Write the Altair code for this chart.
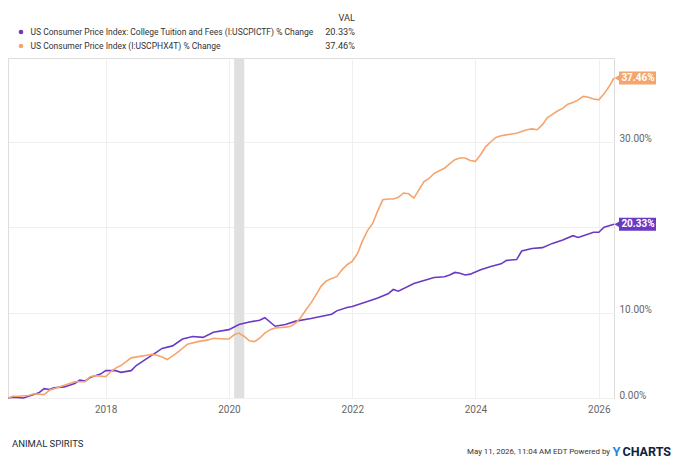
import altair as alt
import pandas as pd

# ---------------- data ----------------
purple_dates = ["2016-06-01", "2016-07-01", "2016-09-01", "2016-11-01", "2016-12-01",
                "2017-01-01", "2017-02-01", "2017-03-01", "2017-05-01", "2017-07-01",
                "2017-08-01", "2017-09-01", "2017-10-01", "2017-12-01", "2018-01-01",
                "2018-03-01", "2018-04-01", "2018-06-01", "2018-07-01", "2018-09-01",
                "2018-11-01", "2018-12-01", "2019-02-01", "2019-04-01", "2019-06-01",
                "2019-08-01", "2019-10-01", "2020-01-01", "2020-03-01", "2020-05-01",
                "2020-07-01", "2020-08-01", "2020-10-01", "2020-12-01", "2021-02-01",
                "2021-05-01", "2021-09-01", "2021-10-01", "2021-12-01", "2022-01-01",
                "2022-04-01", "2022-06-01", "2022-08-01", "2022-09-01", "2022-10-01",
                "2023-01-01", "2023-05-01", "2023-07-01", "2023-08-01", "2023-09-01",
                "2023-10-01", "2023-11-01", "2023-12-01", "2024-02-01", "2024-04-01",
                "2024-06-01", "2024-07-01", "2024-09-01", "2024-10-01", "2024-12-01",
                "2025-02-01", "2025-04-01", "2025-06-01", "2025-08-01", "2025-09-01",
                "2025-10-01", "2025-12-01", "2026-01-01", "2026-02-01", "2026-04-01"]
purple_vals = [0.0, 0.1, 0.0, 0.4, 0.6,
               1.1, 1.0, 1.2, 1.3, 1.7,
               2.1, 2.0, 2.4, 2.8, 3.2,
               3.2, 3.0, 3.2, 3.8, 4.6,
               5.4, 5.8, 6.1, 6.9, 7.2,
               7.1, 7.7, 8.0, 8.6, 8.9,
               9.1, 9.4, 8.4, 8.6, 9.0,
               9.3, 9.8, 10.2, 10.6, 10.7,
               11.3, 11.7, 12.2, 12.7, 12.5,
               13.4, 14.1, 14.2, 14.4, 14.7,
               14.6, 14.4, 14.5, 15.0, 15.4,
               15.7, 16.1, 16.2, 17.2, 17.5,
               17.6, 18.1, 18.5, 19.0, 18.8,
               19.0, 19.4, 19.4, 20.0, 20.33]

orange_dates = ["2016-06-01", "2016-07-01", "2016-08-01", "2016-10-01", "2016-11-01",
                "2017-01-01", "2017-02-01", "2017-04-01", "2017-06-01", "2017-07-01",
                "2017-09-01", "2017-10-01", "2017-11-01", "2018-01-01", "2018-02-01",
                "2018-03-01", "2018-04-01", "2018-06-01", "2018-08-01", "2018-09-01",
                "2018-10-01", "2018-11-01", "2018-12-01", "2019-01-01", "2019-03-01",
                "2019-05-01", "2019-07-01", "2019-09-01", "2019-10-01", "2019-12-01",
                "2020-01-01", "2020-02-01", "2020-03-01", "2020-04-01", "2020-05-01",
                "2020-06-01", "2020-07-01", "2020-08-01", "2020-09-01", "2020-10-01",
                "2020-12-01", "2021-01-01", "2021-02-01", "2021-03-01", "2021-04-01",
                "2021-05-01", "2021-06-01", "2021-07-01", "2021-08-01", "2021-09-01",
                "2021-10-01", "2021-11-01", "2021-12-01", "2022-01-01", "2022-02-01",
                "2022-03-01", "2022-04-01", "2022-05-01", "2022-06-01", "2022-07-01",
                "2022-08-01", "2022-09-01", "2022-10-01", "2022-11-01", "2022-12-01",
                "2023-01-01", "2023-02-01", "2023-03-01", "2023-04-01", "2023-05-01",
                "2023-06-01", "2023-07-01", "2023-08-01", "2023-09-01", "2023-10-01",
                "2023-11-01", "2023-12-01", "2024-01-01", "2024-02-01", "2024-03-01",
                "2024-04-01", "2024-05-01", "2024-06-01", "2024-07-01", "2024-08-01",
                "2024-09-01", "2024-10-01", "2024-11-01", "2024-12-01", "2025-01-01",
                "2025-02-01", "2025-03-01", "2025-04-01", "2025-05-01", "2025-06-01",
                "2025-07-01", "2025-08-01", "2025-09-01", "2025-10-01", "2025-11-01",
                "2025-12-01", "2026-01-01", "2026-02-01", "2026-03-01", "2026-04-01"]
orange_vals = [0.0, 0.2, 0.2, 0.3, 0.5,
               0.4, 0.9, 1.3, 1.7, 1.9,
               1.9, 2.5, 2.6, 2.5, 3.1,
               3.5, 3.8, 4.7, 4.9, 5.0,
               5.1, 5.0, 4.8, 4.5, 5.3,
               6.3, 6.6, 6.8, 7.0, 6.9,
               6.9, 7.4, 7.6, 7.2, 6.7,
               6.6, 7.0, 7.6, 8.0, 8.2,
               8.3, 8.4, 8.8, 9.4, 10.3,
               11.1, 12.1, 13.1, 13.7, 14.0,
               14.2, 15.0, 15.6, 16.0, 16.9,
               18.3, 19.6, 20.4, 21.9, 23.2,
               23.3, 23.3, 23.5, 24.0, 23.9,
               23.4, 24.4, 25.3, 25.7, 26.3,
               26.6, 26.9, 27.4, 27.9, 28.1,
               28.1, 27.8, 27.7, 28.5, 29.4,
               30.0, 30.5, 30.7, 30.8, 30.9,
               31.0, 31.2, 31.4, 31.5, 31.4,
               32.0, 32.8, 33.2, 33.6, 33.9,
               34.4, 34.6, 34.9, 35.3, 35.2,
               35.0, 34.9, 35.6, 36.4, 37.46]

series_names = ["US Consumer Price Index: College Tuition and Fees (I:USCPICTF) % Change",
                "US Consumer Price Index (I:USCPHX4T) % Change"]
last_labels = ["20.33%", "37.46%"]
series_colors = ["#6a3ac4", "#f7a46c"]
recession_start = ["2020-02-01"]
recession_end = ["2020-04-01"]
x_tick_years = [2018, 2020, 2022, 2024, 2026]
y_ticks = [0, 10, 20, 30]
footer_left = "ANIMAL SPIRITS"
footer_right = "May 11, 2026, 11:04 AM EDT Powered by"

# ---------------- tables ----------------
df = pd.concat([
    pd.DataFrame({"date": purple_dates, "value": purple_vals, "series": series_names[0]}),
    pd.DataFrame({"date": orange_dates, "value": orange_vals, "series": series_names[1]}),
], ignore_index=True)

last_df = pd.DataFrame({
    "date": [purple_dates[-1], orange_dates[-1]],
    "value": [purple_vals[-1], orange_vals[-1]],
    "series": series_names,
    "label": last_labels,
})
rec_df = pd.DataFrame({"start": recession_start, "end": recession_end})

W, H = 606, 340
FONT = "Roboto"

xscale = alt.Scale(type="utc", domain=[alt.DateTime(year=2016, month=6, date=1, utc=True),
                                       alt.DateTime(year=2026, month=4, date=1, utc=True)])
yscale = alt.Scale(domain=[0, 39.8], nice=False, zero=False)
cscale = alt.Scale(domain=series_names, range=series_colors)

xaxis = alt.Axis(values=[alt.DateTime(year=y, month=1, date=1, utc=True) for y in x_tick_years],
                 labelExpr="utcFormat(datum.value, '%Y')", grid=True, gridColor="#efefef",
                 ticks=False, domain=False, labelColor="#666666", labelFontSize=10,
                 labelPadding=6, title=None, labelFont=FONT)
yaxis = alt.Axis(orient="right", values=y_ticks,
                 labelExpr="datum.value == 20 ? '' : format(datum.value, '.2f') + '%'",
                 grid=True, gridColor="#efefef", ticks=False, domain=False,
                 labelColor="#666666", labelFontSize=10, labelPadding=5, labelOffset=-3,
                 title=None, labelFont=FONT)

rec = alt.Chart(rec_df).mark_rect(color="#e0e0e0").encode(
    x=alt.X("start:T", scale=xscale, axis=xaxis),
    x2="end:T",
    y=alt.value(0), y2=alt.value(H),
)

lines = alt.Chart(df).mark_line(strokeWidth=1.6).encode(
    x=alt.X("date:T", scale=xscale, axis=xaxis),
    y=alt.Y("value:Q", scale=yscale, axis=yaxis),
    color=alt.Color("series:N", scale=cscale, legend=None),
)

tag_rect = alt.Chart(last_df).mark_rect(xOffset=5, x2Offset=42, yOffset=-6.5, y2Offset=6.5).encode(
    x=alt.X("date:T", scale=xscale), x2="date:T",
    y=alt.Y("value:Q", scale=yscale), y2="value:Q",
    color=alt.Color("series:N", scale=cscale, legend=None),
)
tag_tri = alt.Chart(last_df).mark_point(shape="triangle-left", filled=True, opacity=1,
                                        size=70, xOffset=4).encode(
    x=alt.X("date:T", scale=xscale),
    y=alt.Y("value:Q", scale=yscale),
    color=alt.Color("series:N", scale=cscale, legend=None),
)
tag_txt = alt.Chart(last_df).mark_text(color="white", fontWeight="bold", fontSize=10,
                                       font=FONT, xOffset=24, align="center",
                                       baseline="middle").encode(
    x=alt.X("date:T", scale=xscale),
    y=alt.Y("value:Q", scale=yscale),
    text="label:N",
)

# legend block above the plot
LFS = 8.5
VFS = 9.2
leg_layers = []
hdr = alt.Chart(pd.DataFrame({"t": ["VAL"]})).mark_text(
    align="right", baseline="middle", fontSize=VFS, font=FONT, color="#333333"
).encode(x=alt.value(347), y=alt.value(-40), text="t:N")
leg_layers.append(hdr)
for i, (nm, lab, col) in enumerate(zip(series_names, last_labels, series_colors)):
    yy = -26 + 14 * i
    one = pd.DataFrame({"name": [nm], "val": [lab]})
    leg_layers.append(alt.Chart(one).mark_circle(size=22, color=col, opacity=1).encode(
        x=alt.value(13), y=alt.value(yy)))
    leg_layers.append(alt.Chart(one).mark_text(
        align="left", baseline="middle", fontSize=LFS, font=FONT, color="#333333"
    ).encode(x=alt.value(22.5), y=alt.value(yy), text="name:N"))
    leg_layers.append(alt.Chart(one).mark_text(
        align="right", baseline="middle", fontSize=VFS, font=FONT, color="#333333"
    ).encode(x=alt.value(347), y=alt.value(yy), text="val:N"))

foot = pd.DataFrame({"l": [footer_left], "r": [footer_right], "y": ["Y"], "c": ["CHARTS"]})
f1 = alt.Chart(foot).mark_text(align="left", baseline="middle", fontSize=9.5,
                               font=FONT, color="#1c2b3c").encode(
    x=alt.value(4), y=alt.value(386), text="l:N")
f2 = alt.Chart(foot).mark_text(align="right", baseline="middle", fontSize=7.9, font=FONT,
                               color="#333333").encode(
    x=alt.value(602), y=alt.value(394), text="r:N")
f3 = alt.Chart(foot).mark_text(align="left", baseline="middle", fontSize=13, font=FONT,
                               fontWeight="bold", color="#1e8ae6").encode(
    x=alt.value(604.5), y=alt.value(394), text="y:N")
f4 = alt.Chart(foot).mark_text(align="left", baseline="middle", fontSize=12.5, font=FONT,
                               fontWeight="bold", color="#0e2240").encode(
    x=alt.value(614.5), y=alt.value(394), text="c:N")

chart = alt.layer(rec, lines, tag_rect, tag_tri, tag_txt, *leg_layers, f1, f2, f3, f4).properties(
    width=W, height=H,
    padding={"left": 0, "top": 50, "right": 58, "bottom": 62},
    autosize=alt.AutoSizeParams(type="none"),
).configure_view(stroke="#e4e4e4").configure(font=FONT)

chart.save("out.html", embed_options={"renderer": "svg", "actions": False})
